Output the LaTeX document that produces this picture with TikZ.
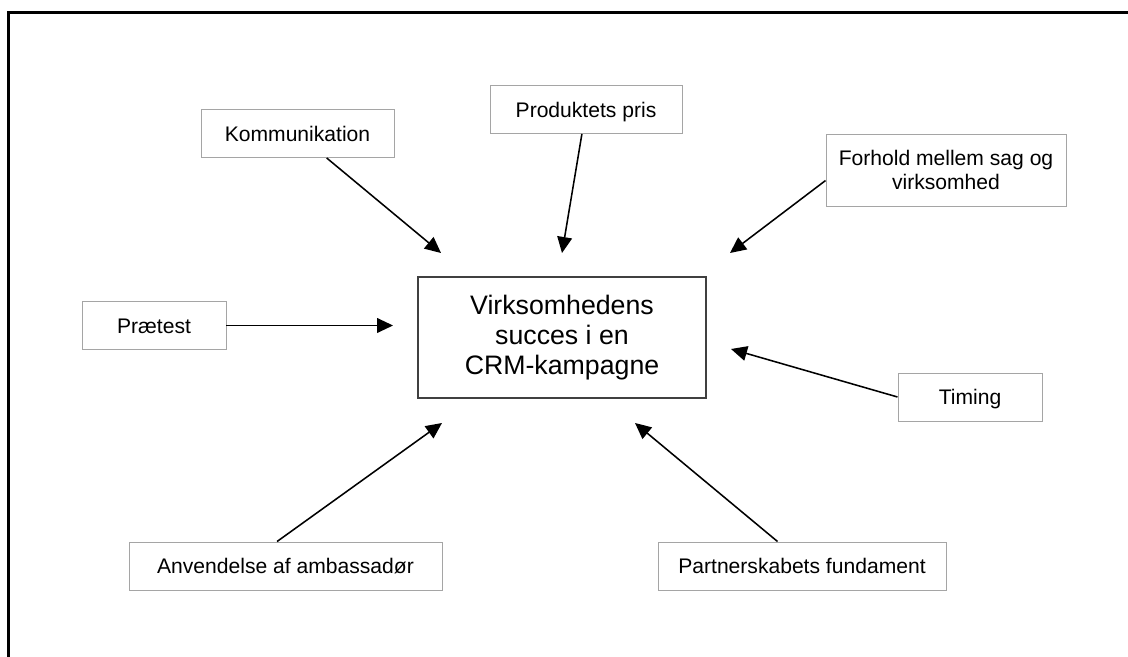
\documentclass[tikz,border=0pt]{standalone}
\usepackage{fontspec}
\setmainfont{Liberation Sans}
\usetikzlibrary{arrows.meta, positioning}

\definecolor{boxgray}{RGB}{165,165,165}
\definecolor{coregray}{RGB}{64,64,64}

\begin{document}
\begin{tikzpicture}[
  >={Triangle[length=0.4cm, width=0.37cm]},
  factor/.style={
    rectangle, draw=boxgray, line width=0.7pt, fill=white,
    inner sep=0pt, minimum height=1.2cm,
    font=\fontsize{15}{17}\selectfont
  },
  oneline/.style={
    factor, text height=10.7pt, text depth=0pt
  },
  core/.style={
    rectangle, draw=coregray, line width=1pt, fill=white,
    inner sep=0pt, minimum width=7.2cm, minimum height=3.025cm,
    align=center, font=\fontsize{19}{21.6}\selectfont
  },
  pull/.style={->, line width=1.1pt},
]

  \useasboundingbox (0,0) rectangle (28.2,16.425);

  % -------------------------------------------------------
  %  Frame (left and top edge only)
  % -------------------------------------------------------
  \draw[line width=1.6pt] (0.2125,0) |- (28.2,16.1125);

  % -------------------------------------------------------
  %  Nodes
  % -------------------------------------------------------
  \node[core] (crm) at (14.05, 7.9875)
    {Virksomhedens\\succes i en\\CRM-kampagne};

  \node[oneline, minimum width=4.825cm] (komm)     at (7.4375, 13.0875) {Kommunikation};
  \node[oneline, minimum width=4.8cm]   (pris)     at (14.65,  13.6875) {Produktets pris};
  \node[factor, align=center, minimum width=6.0cm, minimum height=1.8cm]
                                        (forhold)  at (23.65,  12.175)
    {Forhold mellem sag og\\virksomhed};
  \node[oneline, minimum width=3.6cm]   (praetest) at (3.85,   8.2875) {Prætest};
  \node[oneline, minimum width=3.6cm]   (timing)   at (24.25,  6.5)    {Timing};
  \node[oneline, minimum width=7.2cm]   (partner)  at (20.05,  2.275)  {Partnerskabets fundament};
  \node[oneline, minimum width=7.825cm] (amb)      at (7.1375, 2.275)  {Anvendelse af ambassadør};

  % -------------------------------------------------------
  %  Arrow tips (they stop short of the centre box)
  % -------------------------------------------------------
  \coordinate (tkomm)     at (11.025, 10.1);
  \coordinate (tpris)     at (14.05,  10.1);
  \coordinate (tforhold)  at (18.25,  10.1);
  \coordinate (tpraetest) at (9.825,  8.2875);
  \coordinate (ttiming)   at (18.275, 7.7);
  \coordinate (tpartner)  at (15.875, 5.85);
  \coordinate (tamb)      at (11.05,  5.85);

  % -------------------------------------------------------
  %  Influences
  % -------------------------------------------------------
  \draw[pull] (komm.-40)       -- (tkomm);
  \draw[pull] (pris)           -- (tpris);
  \draw[pull] (forhold.185.7)  -- (tforhold);
  \draw[pull] (praetest.east)  -- (tpraetest);
  \draw[pull] (timing.west)    -- (ttiming);
  \draw[pull] (partner.135)    -- (tpartner);
  \draw[pull] (amb.109.5)      -- (tamb);

\end{tikzpicture}
\end{document}
